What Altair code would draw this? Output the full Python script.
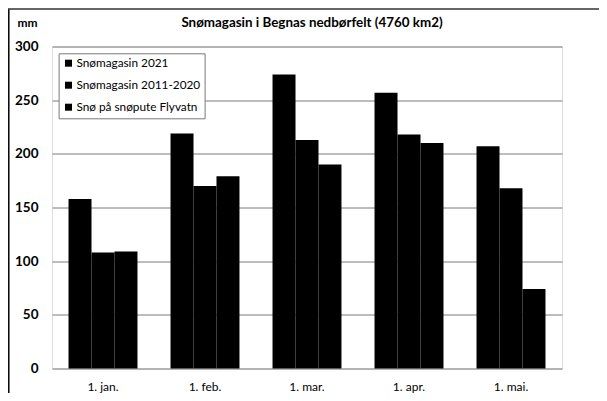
import altair as alt
import pandas as pd

months = ["1. jan.", "1. feb.", "1. mar.", "1. apr.", "1. mai."]
series = ["Snømagasin 2021", "Snømagasin 2011-2020", "Snø på snøpute Flyvatn"]
snomagasin_2021 = [158, 219, 274, 257, 207]
snomagasin_2011_2020 = [108, 170, 213, 218, 168]
flyvatn = [109, 179, 190, 210, 74]
y_ticks = [0, 50, 100, 150, 200, 250, 300]
title_text = "Snømagasin i Begnas nedbørfelt (4760 km2)"

rows = []
for s, vals in zip(series, [snomagasin_2021, snomagasin_2011_2020, flyvatn]):
    for m, v in zip(months, vals):
        rows.append({"month": m, "series": s, "value": v})
df = pd.DataFrame(rows)

FONT = "Lato"
GRID = "#7a7a7a"

bars = alt.Chart(df).mark_bar(color="black").encode(
    x=alt.X(
        "month:N", sort=months,
        scale=alt.Scale(paddingInner=0.324, paddingOuter=0.162),
        axis=alt.Axis(title=None, labelAngle=0, ticks=False, domain=False, grid=False,
                      labelPadding=13, labelFontSize=12, labelFont=FONT, labelColor="black"),
    ),
    xOffset=alt.XOffset("series:N", sort=series,
                        scale=alt.Scale(paddingInner=0, paddingOuter=0)),
    y=alt.Y(
        "value:Q", scale=alt.Scale(domain=[0, 300]),
        axis=alt.Axis(values=y_ticks, title="mm", titleAngle=0, titleX=-25, titleY=-24,
                      titleAlign="center", titleBaseline="middle", titleFontSize=12,
                      titleFont=FONT, titleFontWeight="bold", titleColor="black",
                      labelFontWeight="bold", labelFontSize=13.5, labelFont=FONT,
                      labelColor="black", labelPadding=14, ticks=False, domain=False,
                      gridColor=GRID, gridWidth=1),
    ),
    color=alt.Color(
        "series:N", sort=series,
        scale=alt.Scale(domain=series, range=["black", "black", "black"]),
        legend=alt.Legend(orient="none", legendX=6.6, legendY=6.8, title=None,
                          fillColor="white", strokeColor=GRID, padding=4,
                          symbolType="square", symbolSize=49, symbolStrokeWidth=0,
                          labelFontSize=11.8, labelFont=FONT, labelColor="black",
                          rowPadding=9, labelOffset=2),
    ),
)

frame_df = pd.DataFrame({"k": [0]})
left_line = alt.Chart(frame_df).mark_rule(color="black", strokeWidth=1.5).encode(
    x=alt.value(-43.2), y=alt.value(-37.5), y2=alt.value(350)
)
top_line = alt.Chart(frame_df).mark_rule(color="#333333", strokeWidth=1.5).encode(
    x=alt.value(-44), x2=alt.value(560), y=alt.value(-37.5), y2=alt.value(-37.5)
)
title = alt.Chart(pd.DataFrame({"t": [title_text]})).mark_text(
    font=FONT, fontSize=13.4, fontWeight="bold", color="black",
    align="center", baseline="middle"
).encode(x=alt.value(260), y=alt.value(-23.5), text="t:N")

chart = alt.layer(bars, left_line, top_line, title).properties(
    width=510,
    height=322,
    padding={"left": 44, "top": 38.5, "right": 37, "bottom": 24.5},
    autosize=alt.AutoSizeParams(type="none"),
).configure_view(stroke=GRID, strokeWidth=1).configure(background="white")

chart.save("out.html", embed_options={"renderer": "svg", "actions": False})
